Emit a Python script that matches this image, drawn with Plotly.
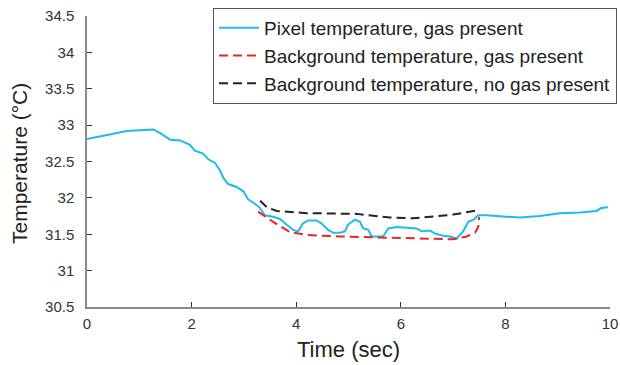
import plotly.graph_objects as go

# Pixel temperature, gas present
pix_t = [0.0, 0.76, 1.27, 1.40, 1.59, 1.78, 1.97, 2.06, 2.22, 2.32, 2.45, 2.54, 2.61, 2.70, 2.86, 2.99,
         3.08, 3.21, 3.31, 3.40, 3.56, 3.69, 3.82, 3.94, 4.04, 4.13, 4.23, 4.39, 4.48, 4.61, 4.71, 4.84,
         4.93, 4.99, 5.12, 5.22, 5.28, 5.38, 5.44, 5.66, 5.76, 5.92, 6.30, 6.40, 6.56, 6.65, 6.81, 6.94,
         7.07, 7.19, 7.29, 7.39, 7.48, 7.64, 8.02, 8.28, 8.66, 9.04, 9.43, 9.74, 9.83, 9.96]
pix_v = [32.81, 32.92, 32.94, 32.89, 32.80, 32.79, 32.73, 32.65, 32.61, 32.53, 32.48, 32.38, 32.27, 32.19, 32.15, 32.09,
         31.98, 31.92, 31.86, 31.76, 31.74, 31.71, 31.63, 31.56, 31.54, 31.65, 31.69, 31.69, 31.65, 31.56, 31.52, 31.52,
         31.54, 31.63, 31.70, 31.67, 31.58, 31.56, 31.47, 31.47, 31.58, 31.60, 31.58, 31.54, 31.55, 31.51, 31.48, 31.47,
         31.44, 31.54, 31.67, 31.70, 31.76, 31.76, 31.74, 31.73, 31.75, 31.79, 31.80, 31.82, 31.86, 31.87]

# Background temperature, gas present
bg_gas_t = [3.27, 3.56, 3.88, 4.20, 4.84, 5.79, 6.37, 6.75, 7.00, 7.26, 7.42, 7.48, 7.50]
bg_gas_v = [31.81, 31.67, 31.53, 31.49, 31.47, 31.45, 31.44, 31.43, 31.43, 31.47, 31.52, 31.60, 31.74]

# Background temperature, no gas present
bg_nogas_t = [3.31, 3.44, 3.63, 4.20, 5.16, 5.79, 6.24, 6.75, 7.00, 7.48]
bg_nogas_v = [31.96, 31.87, 31.82, 31.79, 31.78, 31.73, 31.72, 31.75, 31.77, 31.83]

x_ticks = [0, 2, 4, 6, 8, 10]
y_ticks = [30.5, 31, 31.5, 32, 32.5, 33, 33.5, 34, 34.5]
x_title = "Time (sec)"
y_title = "Temperature (°C)"

FONT = "Liberation Sans, Arial, sans-serif"

fig = go.Figure()
fig.add_trace(go.Scatter(x=pix_t, y=pix_v, mode="lines", name="Pixel temperature, gas present",
                         line=dict(color="#1EBBEF", width=2)))
fig.add_trace(go.Scatter(x=bg_gas_t, y=bg_gas_v, mode="lines", name="Background temperature, gas present",
                         line=dict(color="#E8242B", width=2, dash="9px,5px")))
fig.add_trace(go.Scatter(x=bg_nogas_t, y=bg_nogas_v, mode="lines", name="Background temperature, no gas present",
                         line=dict(color="#222222", width=2, dash="9px,5px")))

axis_common = dict(showgrid=False, zeroline=False, showline=True, linecolor="#8a8a8a", linewidth=1.5,
                   ticks="inside", ticklen=5, tickcolor="#333333", tickwidth=1,
                   tickfont=dict(family=FONT, size=15, color="#333333"),
                   mirror=False, automargin=False)

fig.update_layout(
    width=620, height=365,
    margin=dict(l=87, r=10, t=16, b=58, autoexpand=False),
    plot_bgcolor="white", paper_bgcolor="white",
    font=dict(family=FONT, color="#333333"),
    xaxis=dict(range=[0, 10], tickvals=x_ticks, ticktext=[str(v) for v in x_ticks],
               ticklabelstandoff=2, **axis_common),
    yaxis=dict(range=[30.5, 34.5], tickvals=y_ticks, ticktext=[("%g" % v) for v in y_ticks],
               ticklabelstandoff=8, **axis_common),
    legend=dict(x=1.0134, y=0.8625, xanchor="right", yanchor="middle",
                bordercolor="#555555", borderwidth=1, bgcolor="white",
                font=dict(family=FONT, size=19, color="#222222"),
                tracegroupgap=0, itemwidth=40),
    showlegend=True,
    annotations=[
        dict(text=x_title, xref="paper", yref="paper", x=(348 - 87) / 523, y=(307 - 349) / 291,
             xanchor="center", yanchor="middle", showarrow=False,
             font=dict(family=FONT, size=22, color="#222222")),
        dict(text=y_title, xref="paper", yref="paper", x=(19 - 87) / 523, y=(307 - 164) / 291,
             xanchor="center", yanchor="middle", showarrow=False, textangle=-90,
             font=dict(family=FONT, size=21, color="#222222")),
    ],
)

fig.write_html("out.html", config={"displayModeBar": False},
               post_script="document.body.style.margin='0';document.body.style.padding='0';")
